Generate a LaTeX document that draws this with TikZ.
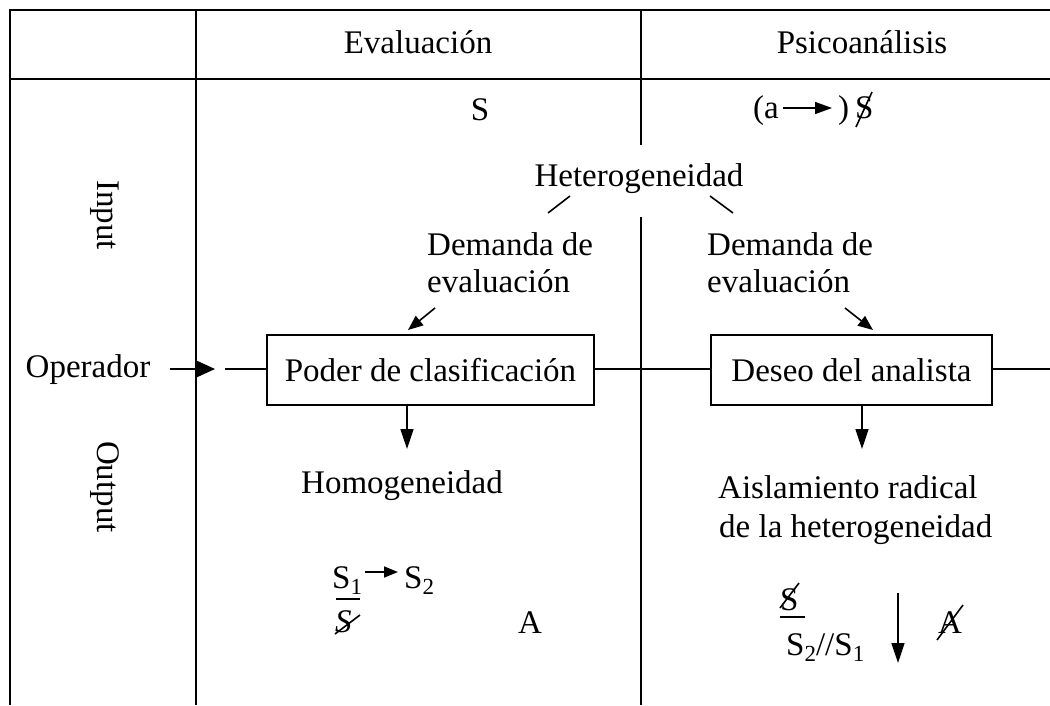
\documentclass[tikz,border=0pt]{standalone}
\usepackage{fontspec}
\setmainfont{Liberation Serif}
\usetikzlibrary{arrows.meta}
\newcommand{\sbs}[1]{\raisebox{-6pt}{\fontsize{23}{23}\selectfont #1}}
\begin{document}
\begin{tikzpicture}[x=1pt,y=-1pt,
  every node/.style={font=\fontsize{33}{37}\selectfont, inner sep=0pt},
  tline/.style={line width=2pt},
  thinl/.style={line width=1.6pt},
  arrD/.style={line width=1.6pt,-{Triangle[length=20pt,width=13pt]}},
  arrS/.style={line width=1.6pt,-{Triangle[length=15pt,width=12pt]}},
  arrT/.style={line width=1.6pt,-{Triangle[length=17pt,width=12pt]}},
  boxn/.style={draw,line width=2pt,minimum height=70pt},
]
\useasboundingbox (0,0) rectangle (1050,705);
% table frame
\draw[tline] (9.5,705) -- (9.5,9.5) -- (1050,9.5);
\draw[tline] (9.5,79) -- (1050,79);
\draw[tline] (196,9.5) -- (196,705);
\draw[tline] (640.5,9.5) -- (640.5,145);
\draw[tline] (640.5,217) -- (640.5,705);
% headers
\node[anchor=base] (ev) at (418,53) {Evaluación};
\node[anchor=base] (ps) at (862,53) {Psicoanálisis};
\node[rotate=-90] (in) at (105,215) {Input};
\node[rotate=-90] (out) at (105,487) {Output};
% top row
\node[anchor=base] (S) at (480,120) {S};
\node[anchor=base west] (pa) at (753,118) {(a};
\coordinate (paA) at (783,108);
\coordinate (paB) at (832,108);
\draw[arrT] (paA) -- (paB);
\node[anchor=base west] (pc) at (838,118) {)};
\node[anchor=base west] (bS) at (855,118) {S};
\draw[thinl] (856,127) -- (872,92);
% heterogeneidad
\node[anchor=base] (het) at (639,186) {Heterogeneidad};
\coordinate (hL1) at (570,196); \coordinate (hL2) at (548,213);
\coordinate (hR1) at (710,196); \coordinate (hR2) at (733,213);
\draw[thinl] (hL1) -- (hL2);
\draw[thinl] (hR1) -- (hR2);
\node[anchor=base west] (d1a) at (427,255) {Demanda de};
\node[anchor=base west] (d1b) at (427,292) {evaluación};
\node[anchor=base west] (d2a) at (707,255) {Demanda de};
\node[anchor=base west] (d2b) at (707,292) {evaluación};
% boxes
\node[boxn, minimum width=327pt] (b1) at (430.5,370) {Poder de clasificación};
\node[boxn, minimum width=281pt] (b2) at (851.5,370) {Deseo del analista};
\coordinate (dL1) at (435,308); \coordinate (dL2) at (408,330);
\coordinate (dR1) at (845,308); \coordinate (dR2) at (873,330);
\draw[arrS] (dL1) -- (dL2);
\draw[arrS] (dR1) -- (dR2);
% operador
\node[anchor=base] (op) at (88,377) {Operador};
\coordinate (opA) at (170,369);
\coordinate (opB) at (215,369);
\coordinate (opC) at (225,369);
\coordinate (rEnd) at (1050,369);
\draw[line width=1.6pt,-{Triangle[length=19pt,width=17pt]}] (opA) -- (opB);
\draw[thinl] (opC) -- (b1.west |- opC);
\draw[thinl] (b1.east |- opC) -- (b2.west |- opC);
\draw[thinl] (b2.east |- opC) -- (rEnd);
% outputs
\draw[arrD] ([xshift=-23.5pt]b1.south) -- ++(0,43);
\draw[arrD] ([xshift=10.5pt]b2.south) -- ++(0,43);
\node[anchor=base] (hom) at (402,493) {Homogeneidad};
\node[anchor=base west] (ais1) at (718,498) {Aislamiento radical};
\node[anchor=base west] (ais2) at (719,537) {de la heterogeneidad};
% bottom left formulas
\node[anchor=base west] (s1) at (332,588) {S\sbs{1}};
\draw[thinl] (336,599) -- (360,599);
\node[anchor=base west] (sl) at (335,632) {\itshape S};
\draw[thinl] (335,634) -- (360,615);
\coordinate (s1a) at (365,572); \coordinate (s1b) at (398,572);
\draw[line width=1.6pt,-{Triangle[length=14pt,width=11pt]}] (s1a) -- (s1b);
\node[anchor=base west] (s2) at (404,588) {S\sbs{2}};
\node[anchor=base] (A) at (530,633) {A};
% bottom right formulas
\node[anchor=base west] (sb) at (780,610) {S};
\draw[thinl] (780,617) -- (805,617);
\draw[thinl] (780,608) -- (799,583);
\node[anchor=base west] (s21) at (786,655) {S\sbs{2}//S\sbs{1}};
\coordinate (vA) at (898,593); \coordinate (vB) at (898,663);
\draw[arrD] (vA) -- (vB);
\node[anchor=base west] (Ab) at (938,633) {A};
\draw[thinl] (937,640) -- (963,605);
\end{tikzpicture}
\end{document}
